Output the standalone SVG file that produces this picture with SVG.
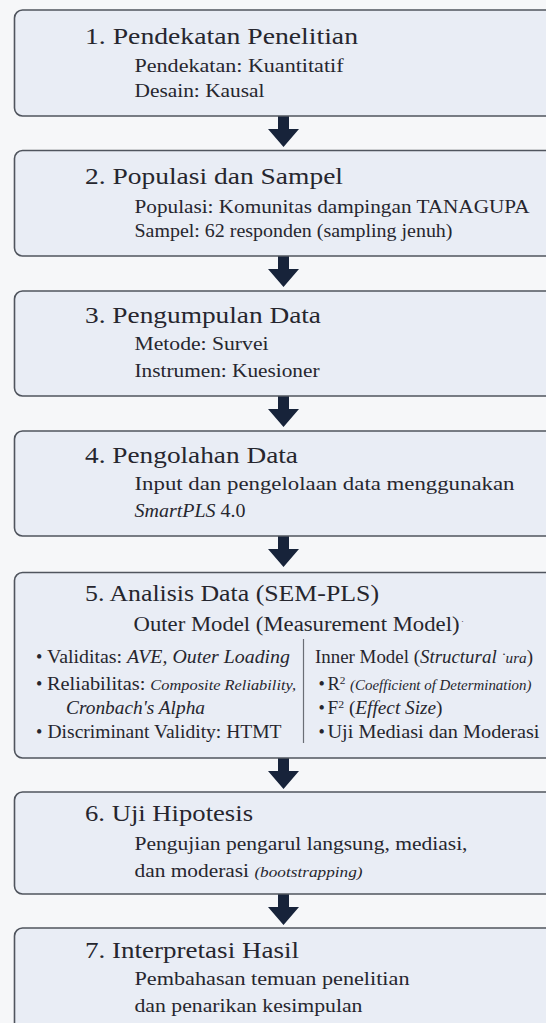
<svg xmlns="http://www.w3.org/2000/svg" width="546" height="1023" viewBox="0 0 546 1023">
<defs>
<style>
.box{fill:#e9edf5;stroke:#50555e;stroke-width:1.6}
.t{font-family:"Liberation Serif","Times New Roman",serif;fill:#26262e}
.ti{font-size:23.5px}
.s{font-size:18px}
.i{font-style:italic}
.sm{font-size:14.5px}
.sup{font-size:11px}
.arr{fill:#17233a}
</style>
</defs>
<rect x="0" y="0" width="546" height="1023" fill="#f6f7f9"/>

<g id="connectors">
<path class="arr" d="M278 116 H289 V129 H299 L283.5 147 L268 129 H278 Z"/>
<path class="arr" d="M278 256 H289 V269 H299 L283.5 287 L268 269 H278 Z"/>
<path class="arr" d="M278 396 H289 V409 H299 L283.5 427 L268 409 H278 Z"/>
<path class="arr" d="M278 536 H289 V549 H299 L283.5 567 L268 549 H278 Z"/>
<path class="arr" d="M278 758 H289 V771 H299 L283.5 789 L268 771 H278 Z"/>
<path class="arr" d="M278 894 H289 V907 H299 L283.5 925 L268 907 H278 Z"/>
</g>

<g id="n1">
<rect class="box" x="14.5" y="10" width="560" height="106" rx="8"/>
<text class="t ti" x="85" y="44" textLength="273" lengthAdjust="spacingAndGlyphs">1. Pendekatan Penelitian</text>
<text class="t s" x="134.5" y="72" textLength="209" lengthAdjust="spacingAndGlyphs">Pendekatan: Kuantitatif</text>
<text class="t s" x="134.5" y="97" textLength="130" lengthAdjust="spacingAndGlyphs">Desain: Kausal</text>
</g>

<g id="n2">
<rect class="box" x="14.5" y="150.5" width="560" height="105.5" rx="8"/>
<text class="t ti" x="85" y="184" textLength="258" lengthAdjust="spacingAndGlyphs">2. Populasi dan Sampel</text>
<text class="t s" x="134.5" y="213" textLength="395" lengthAdjust="spacingAndGlyphs">Populasi: Komunitas dampingan TANAGUPA</text>
<text class="t s" x="134.5" y="237" textLength="318" lengthAdjust="spacingAndGlyphs">Sampel: 62 responden (sampling jenuh)</text>
</g>

<g id="n3">
<rect class="box" x="14.5" y="291" width="560" height="105" rx="8"/>
<text class="t ti" x="85" y="323" textLength="236" lengthAdjust="spacingAndGlyphs">3. Pengumpulan Data</text>
<text class="t s" x="134.5" y="350" textLength="134" lengthAdjust="spacingAndGlyphs">Metode: Survei</text>
<text class="t s" x="134.5" y="377" textLength="185" lengthAdjust="spacingAndGlyphs">Instrumen: Kuesioner</text>
</g>

<g id="n4">
<rect class="box" x="14.5" y="431" width="560" height="105" rx="8"/>
<text class="t ti" x="85" y="463" textLength="213" lengthAdjust="spacingAndGlyphs">4. Pengolahan Data</text>
<text class="t s" x="134.5" y="490" textLength="380" lengthAdjust="spacingAndGlyphs">Input dan pengelolaan data menggunakan</text>
<text class="t s" x="134.5" y="517" textLength="111" lengthAdjust="spacingAndGlyphs"><tspan class="i">SmartPLS</tspan> 4.0</text>
</g>

<g id="n5">
<rect class="box" x="14.5" y="572.5" width="560" height="185.5" rx="8"/>
<text class="t ti" x="85" y="601" textLength="294" lengthAdjust="spacingAndGlyphs">5. Analisis Data (SEM-PLS)</text>
<text class="t" style="font-size:20px" x="133.5" y="631" textLength="326" lengthAdjust="spacingAndGlyphs">Outer Model (Measurement Model)</text>
<text class="t" style="font-size:9px" x="461" y="624">·</text>
<line x1="303.5" y1="639" x2="303.5" y2="743" stroke="#6a6e76" stroke-width="1.2"/>
<text class="t s" x="36" y="663">•</text>
<text class="t s" x="47" y="663" textLength="243" lengthAdjust="spacingAndGlyphs">Validitas: <tspan class="i">AVE, Outer Loading</tspan></text>
<text class="t s" x="36" y="690">•</text>
<text class="t s" x="47" y="690" textLength="249" lengthAdjust="spacingAndGlyphs">Reliabilitas: <tspan class="i sm">Composite Reliability,</tspan></text>
<text class="t s i" x="66" y="714" textLength="139" lengthAdjust="spacingAndGlyphs">Cronbach's Alpha</text>
<text class="t s" x="36" y="738">•</text>
<text class="t s" x="47.5" y="738" textLength="234" lengthAdjust="spacingAndGlyphs">Discriminant Validity: HTMT</text>
<text class="t s" x="315" y="663" textLength="218" lengthAdjust="spacingAndGlyphs">Inner Model (<tspan class="i">Structural</tspan><tspan class="i sm"> ˙ura</tspan>)</text>
<text class="t s" x="318.5" y="690">•</text>
<text class="t s" x="327.5" y="690" textLength="204" lengthAdjust="spacingAndGlyphs">R<tspan class="sup" baseline-shift="super">2</tspan> <tspan class="i sm">(Coefficient of Determination)</tspan></text>
<text class="t s" x="318.5" y="714">•</text>
<text class="t s" x="327.5" y="714" textLength="115" lengthAdjust="spacingAndGlyphs">F<tspan class="sup" baseline-shift="super">2</tspan> (<tspan class="i">Effect Size</tspan>)</text>
<text class="t s" x="318.5" y="738">•</text>
<text class="t s" x="327.5" y="738" textLength="212" lengthAdjust="spacingAndGlyphs">Uji Mediasi dan Moderasi</text>
</g>

<g id="n6">
<rect class="box" x="14.5" y="792" width="560" height="102" rx="8"/>
<text class="t ti" x="85" y="821" textLength="168" lengthAdjust="spacingAndGlyphs">6. Uji Hipotesis</text>
<text class="t s" x="134.5" y="850" textLength="333" lengthAdjust="spacingAndGlyphs">Pengujian pengarul langsung, mediasi,</text>
<text class="t s" x="134.5" y="877" textLength="228" lengthAdjust="spacingAndGlyphs">dan moderasi <tspan class="i sm">(bootstrapping)</tspan></text>
</g>

<g id="n7">
<rect class="box" x="14.5" y="928" width="560" height="120" rx="8"/>
<text class="t ti" x="85" y="958" textLength="214" lengthAdjust="spacingAndGlyphs">7. Interpretasi Hasil</text>
<text class="t s" x="134.5" y="985" textLength="275" lengthAdjust="spacingAndGlyphs">Pembahasan temuan penelitian</text>
<text class="t s" x="134.5" y="1012" textLength="228" lengthAdjust="spacingAndGlyphs">dan penarikan kesimpulan</text>
</g>
</svg>
